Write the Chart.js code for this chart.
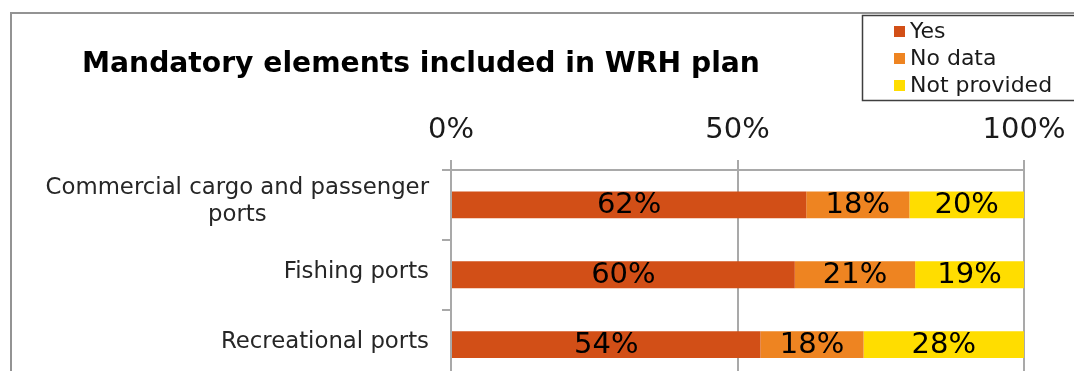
<!DOCTYPE html>
<html>
<head>
<meta charset="utf-8">
<title>Mandatory elements included in WRH plan</title>
<script src="https://cdn.jsdelivr.net/npm/chart.js@4/dist/chart.umd.min.js"></script>
<style>
    html, body { margin: 0; padding: 0; background: #fff; overflow: hidden; }
    .frame {
        position: absolute; left: 10px; top: 12px;
        width: 1100px; height: 420px;
        border-left: 2px solid #939393; border-top: 2px solid #939393;
    }
    #wrap { position: absolute; left: 0; top: 0; width: 1074px; height: 400px; }
</style>
</head>
<body>
<div class="frame"></div>
<div id="wrap"><canvas id="wrhChart" width="1074" height="400"></canvas></div>
<script>
const categories = [["Commercial cargo and passenger", "ports"], "Fishing ports", "Recreational ports"];
const seriesNames = ["Yes", "No data", "Not provided"];
const yesValues = [62, 60, 54];
const noDataValues = [18, 21, 18];
const notProvidedValues = [20, 19, 28];
const tickValues = [0, 50, 100];
const chartTitle = "Mandatory elements included in WRH plan";

const COLORS = ["#d24f17", "#ee8421", "#ffdd00"];
const GRID = "#a9a9a9";
const FONT = "'DejaVu Sans', Verdana, sans-serif";

document.addEventListener("DOMContentLoaded", () => {
    // Percent text in the middle of each bar segment
    const segmentLabels = {
        id: "segmentLabels",
        afterDatasetsDraw(chart) {
            const ctx = chart.ctx;
            ctx.save();
            ctx.font = `29px ${FONT}`;
            ctx.fillStyle = "#000";
            ctx.textAlign = "center";
            ctx.textBaseline = "middle";
            chart.data.datasets.forEach((ds, i) => {
                chart.getDatasetMeta(i).data.forEach((bar, j) => {
                    const v = ds.data[j];
                    ctx.fillText(v + "%", (bar.x + bar.base) / 2, bar.y + 1);
                });
            });
            ctx.restore();
        }
    };

    // Category names: single lines right aligned, wrapped names centred as a block
    const categoryNames = {
        id: "categoryNames",
        afterDraw(chart) {
            const ctx = chart.ctx;
            const yScale = chart.scales.y;
            const right = yScale.right - 22;
            const lineH = 27;
            ctx.save();
            ctx.font = `22.8px ${FONT}`;
            ctx.fillStyle = "#262626";
            ctx.textBaseline = "middle";
            categories.forEach((cat, i) => {
                const lines = Array.isArray(cat) ? cat : [cat];
                const widest = Math.max(...lines.map(l => ctx.measureText(l).width));
                const cy = yScale.getPixelForTick(i) - 3;
                const top = cy - (lines.length - 1) * lineH / 2;
                ctx.textAlign = "center";
                lines.forEach((l, k) => ctx.fillText(l, right - widest / 2, top + k * lineH));
            });
            ctx.restore();
        }
    };

    // Title at the top left and the boxed legend at the top right
    const headerParts = {
        id: "headerParts",
        afterDraw(chart) {
            const ctx = chart.ctx;
            ctx.save();
            ctx.font = `bold 28.2px ${FONT}`;
            ctx.fillStyle = "#000";
            ctx.textAlign = "left";
            ctx.textBaseline = "alphabetic";
            ctx.fillText(chartTitle, 82, 72);

            ctx.strokeStyle = "#3f3f3f";
            ctx.lineWidth = 1.5;
            ctx.strokeRect(862.5, 15.5, 240, 85);
            ctx.font = `22px ${FONT}`;
            seriesNames.forEach((name, i) => {
                const base = 38 + i * 27;
                ctx.fillStyle = COLORS[i];
                ctx.fillRect(894, base - 12, 11, 11);
                ctx.fillStyle = "#1a1a1a";
                ctx.fillText(name, 910, base);
            });
            ctx.restore();
        }
    };

    const values = [yesValues, noDataValues, notProvidedValues];

    new Chart(document.getElementById("wrhChart"), {
        type: "bar",
        data: {
            labels: categories,
            datasets: seriesNames.map((name, i) => ({
                label: name,
                data: values[i],
                backgroundColor: COLORS[i],
                borderWidth: 0,
                categoryPercentage: 1,
                barPercentage: 0.385
            }))
        },
        options: {
            indexAxis: "y",
            responsive: false,
            animation: false,
            devicePixelRatio: 1,
            layout: { padding: { left: 0, top: 0, right: 50, bottom: 20.5 } },
            plugins: {
                legend: { display: false },
                title: { display: false },
                tooltip: { enabled: false }
            },
            scales: {
                x: {
                    position: "top",
                    stacked: true,
                    min: 0,
                    max: 100,
                    afterBuildTicks: (scale) => { scale.ticks = tickValues.map(v => ({ value: v })); },
                    afterFit: (scale) => {
                        scale.height = 170;
                        scale.paddingLeft = 0;
                        scale.paddingRight = 0;
                    },
                    ticks: {
                        callback: (v) => v + "%",
                        font: { family: FONT, size: 29 },
                        color: "#1a1a1a",
                        padding: 12,
                        maxRotation: 0
                    },
                    grid: { color: GRID, lineWidth: 2, tickLength: 10 },
                    border: { display: true, color: GRID, width: 2 }
                },
                y: {
                    stacked: true,
                    afterFit: (scale) => { scale.width = 451; },
                    ticks: { display: false },
                    grid: { drawOnChartArea: false, drawTicks: true, tickLength: 9, color: GRID, lineWidth: 2 },
                    border: { display: true, color: GRID, width: 2 }
                }
            }
        },
        plugins: [segmentLabels, categoryNames, headerParts]
    });
});
</script>
</body>
</html>
